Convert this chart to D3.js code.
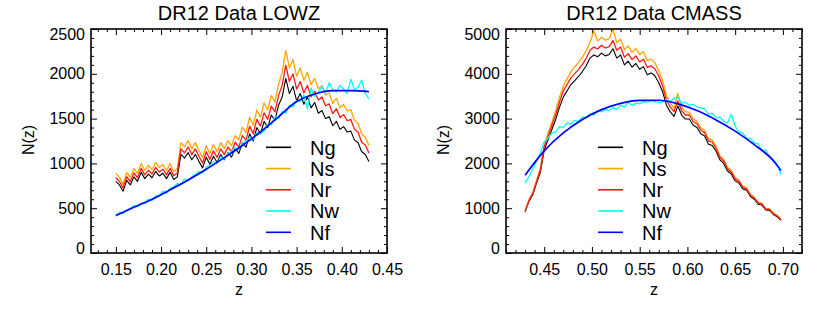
<!DOCTYPE html>
<html><head><meta charset="utf-8">
<script src="https://cdn.jsdelivr.net/npm/d3@7"></script>
<style>
html,body{margin:0;padding:0;background:#fff;}
svg{display:block;font-family:"Liberation Sans",Arial,Helvetica,sans-serif;}
</style></head><body>
<svg id="chart" width="830" height="312"></svg>
<script>
// ---------------- DATA ----------------
const seriesNames = ["Ng","Ns","Nr","Nw","Nf"];

// LOWZ panel
const lowzZ = [0.150,0.154,0.158,0.162,0.166,0.170,0.174,0.178,0.182,0.186,
0.190,0.194,0.198,0.202,0.206,0.210,0.214,0.218,0.222,0.226,
0.230,0.234,0.238,0.242,0.246,0.250,0.254,0.258,0.262,0.266,
0.270,0.274,0.278,0.282,0.286,0.290,0.294,0.298,0.302,0.306,
0.310,0.314,0.318,0.322,0.326,0.330,0.334,0.338,0.342,0.346,
0.350,0.354,0.358,0.362,0.366,0.370,0.374,0.378,0.382,0.386,
0.390,0.394,0.398,0.402,0.406,0.410,0.414,0.418,0.422,0.426,0.430];
const lowzNg = [800,760,690,810,760,850,800,900,830,880,
840,910,860,890,830,900,820,850,1100,1060,
1120,1040,1100,1020,950,1070,990,1080,1010,1100,
1040,1120,1070,1170,1110,1230,1180,1330,1250,1400,
1330,1470,1400,1540,1480,1650,1740,1950,1780,1860,
1700,1780,1660,1740,1620,1680,1560,1590,1500,1520,
1420,1470,1380,1410,1350,1360,1260,1230,1130,1100,1020];
const lowzNs = [888,844,766,899,844,944,888,999,921,977,
932,1010,955,988,921,999,910,944,1232,1187,
1254,1165,1232,1142,1064,1198,1109,1210,1131,1232,
1165,1254,1198,1310,1265,1402,1345,1516,1425,1596,
1516,1676,1596,1756,1687,1881,2018,2262,2065,2158,
1972,2065,1926,2018,1879,1949,1833,1868,1763,1786,
1669,1727,1622,1657,1586,1598,1481,1445,1328,1293,1199];
const lowzNr = [840,798,725,851,798,893,840,945,872,924,
882,956,903,935,872,945,861,893,1162,1119,
1183,1098,1162,1077,1003,1130,1045,1140,1067,1162,
1098,1183,1130,1236,1182,1310,1257,1416,1331,1491,
1416,1566,1491,1640,1576,1757,1871,2096,1914,2000,
1828,1914,1785,1871,1742,1806,1708,1741,1643,1664,
1555,1610,1511,1544,1478,1489,1380,1347,1237,1205,1117];
const lowzNw = [410,455,440,478,500,530,515,560,552,600,
585,640,632,690,668,720,740,775,760,825,
808,850,880,912,895,960,975,1015,998,1070,
1050,1110,1135,1180,1150,1230,1250,1290,1270,1345,
1335,1360,1440,1430,1520,1500,1580,1560,1650,1630,
1700,1690,1760,1610,1840,1750,1790,1860,1780,1900,
1820,1800,1870,1830,1780,1940,1820,1850,1930,1780,1720];
const lowzFitZ = [0.15,0.17,0.19,0.21,0.23,0.25,0.27,0.29,0.31,0.33,0.35,0.37,0.39,0.41,0.43];
const lowzNf = [418,510,600,705,815,935,1065,1200,1350,1520,1690,1775,1812,1812,1800];

// CMASS panel
const cmassZ = [0.430,0.434,0.438,0.442,0.446,0.450,0.454,0.458,0.462,0.466,
0.470,0.474,0.478,0.482,0.486,0.490,0.494,0.498,0.502,0.506,
0.510,0.514,0.518,0.522,0.526,0.530,0.534,0.538,0.542,0.546,
0.550,0.554,0.558,0.562,0.566,0.570,0.574,0.578,0.582,0.586,
0.590,0.594,0.598,0.602,0.606,0.610,0.614,0.618,0.622,0.626,
0.630,0.634,0.638,0.642,0.646,0.650,0.654,0.658,0.662,0.666,
0.670,0.674,0.678,0.682,0.686,0.690,0.694,0.698];
const cmassNg = [920,1150,1300,1560,1800,2300,2520,2750,2980,3250,
3480,3620,3760,3850,3940,4050,4180,4350,4420,4380,
4460,4400,4430,4560,4350,4420,4200,4280,4150,4230,
4100,4160,3980,4020,3950,3800,3600,3300,3150,3050,
3280,3080,2990,2990,2850,2800,2660,2610,2430,2400,
2270,2080,2000,1830,1760,1610,1560,1430,1400,1260,
1200,1090,1070,960,950,860,810,730];
const cmassNs = [938,1185,1352,1622,1890,2415,2671,2915,3174,3478,
3724,3892,4042,4158,4255,4374,4514,4698,4960,4730,
4817,4752,4784,4990,4698,4774,4536,4622,4482,4568,
4428,4493,4298,4322,4246,4066,3852,3515,3339,3233,
3560,3249,3154,3140,2993,2940,2793,2741,2552,2520,
2384,2174,2090,1912,1839,1682,1630,1487,1456,1310,
1248,1134,1113,998,988,894,842,759];
const cmassNr = [929,1173,1326,1591,1854,2369,2596,2846,3084,3364,
3619,3765,3910,4004,4098,4212,4347,4524,4597,4555,
4638,4576,4607,4742,4524,4597,4368,4451,4316,4399,
4264,4326,4139,4181,4108,3952,3726,3416,3260,3157,
3395,3172,3080,3080,2936,2884,2740,2688,2503,2472,
2327,2132,2050,1876,1804,1650,1599,1466,1428,1285,
1224,1112,1091,979,969,877,826,745];
const cmassNw = [1560,1700,1880,2050,2230,2480,2560,2680,2700,2820,
2800,2900,2880,2960,2940,3040,3020,3110,3080,3180,
3150,3200,3180,3250,3200,3300,3260,3360,3290,3350,
3330,3380,3360,3400,3380,3360,3370,3420,3380,3450,
3480,3340,3360,3300,3320,3260,3240,3220,3100,3120,
3020,3030,2940,2900,3100,2830,2700,2680,2560,2560,
2460,2440,2280,2300,2140,2080,1980,1750];
const cmassFitZ = [0.43,0.45,0.47,0.49,0.51,0.53,0.55,0.57,0.59,0.61,0.63,0.65,0.67,0.69,0.698];
const cmassNf = [1738,2280,2680,2980,3200,3340,3405,3410,3330,3180,2970,2720,2420,2060,1840];

// tick labels
const lowzXTicks = [0.15,0.20,0.25,0.30,0.35,0.40,0.45];
const lowzYTicks = [0,500,1000,1500,2000,2500];
const cmassXTicks = [0.45,0.50,0.55,0.60,0.65,0.70];
const cmassYTicks = [0,1000,2000,3000,4000,5000];

// ---------------- DRAW ----------------
const colors = {Ng:"#000000", Ns:"#ffa500", Nr:"#ff1a1a", Nw:"#00ffff", Nf:"#0000ff"};
const widths = {Ng:1.1, Ns:1.3, Nr:1.3, Nw:1.3, Nf:1.7};
const svg = d3.select("#chart");
svg.append("rect").attr("width",830).attr("height",312).attr("fill","#fff");
const TOP = 29, BOTTOM = 253;

function panel(cfg){
  const g = svg.append("g");
  const x = d3.scaleLinear().domain(cfg.xDomain).range([cfg.left, cfg.right]);
  const y = d3.scaleLinear().domain(cfg.yDomain).range([BOTTOM, TOP]);
  const isMajor = (v, step) => Math.abs(v/step - Math.round(v/step)) < 1e-6;
  const xMinor = d3.range(Math.ceil(cfg.xDomain[0]*100)/100, cfg.xDomain[1]+1e-9, 0.01).filter(v => !isMajor(v,0.05));
  const yMinor = d3.range(cfg.yDomain[0], cfg.yDomain[1]+1e-9, cfg.yMinorStep).filter(v => !isMajor(v, cfg.yTicks[1]));

  const styleAxis = sel => { sel.select(".domain").remove(); sel.attr("font-size",16).attr("font-family",'"Liberation Sans",Arial,Helvetica,sans-serif').attr("color","#000"); sel.selectAll("line").attr("stroke-width",1); };

  // minor ticks
  g.append("g").attr("transform",`translate(0,${BOTTOM})`).call(d3.axisBottom(x).tickValues(xMinor).tickSize(-3).tickFormat("")).call(styleAxis);
  g.append("g").attr("transform",`translate(0,${TOP})`).call(d3.axisTop(x).tickValues(xMinor).tickSize(-3).tickFormat("")).call(styleAxis);
  g.append("g").attr("transform",`translate(${cfg.left},0)`).call(d3.axisLeft(y).tickValues(yMinor).tickSize(-3).tickFormat("")).call(styleAxis);
  g.append("g").attr("transform",`translate(${cfg.right},0)`).call(d3.axisRight(y).tickValues(yMinor).tickSize(-3).tickFormat("")).call(styleAxis);
  // major ticks
  g.append("g").attr("transform",`translate(0,${BOTTOM})`).call(d3.axisBottom(x).tickValues(cfg.xTicks).tickSize(-6).tickPadding(11).tickFormat(d3.format(".2f"))).call(styleAxis);
  g.append("g").attr("transform",`translate(0,${TOP})`).call(d3.axisTop(x).tickValues(cfg.xTicks).tickSize(-6).tickFormat("")).call(styleAxis);
  const yl = g.append("g").attr("transform",`translate(${cfg.left},0)`).call(d3.axisLeft(y).tickValues(cfg.yTicks).tickSize(-6).tickPadding(6).tickFormat(d3.format("d"))).call(styleAxis);
  yl.selectAll("text").attr("dy", d => d===cfg.yDomain[0] ? "0.0em" : (d===cfg.yDomain[1] ? "0.63em" : "0.32em"));
  g.append("g").attr("transform",`translate(${cfg.right},0)`).call(d3.axisRight(y).tickValues(cfg.yTicks).tickSize(-6).tickFormat("")).call(styleAxis);

  // data lines
  const lineG = g.append("g");
  cfg.series.forEach(s => {
    const pts = s.z.map((z,i) => [z, s.v[i]]);
    const line = d3.line().x(d => x(d[0])).y(d => y(d[1])).curve(s.name==="Nf" ? d3.curveMonotoneX : d3.curveLinear);
    lineG.append("path").datum(pts).attr("d", line).attr("fill","none")
      .attr("stroke", colors[s.name]).attr("stroke-width", widths[s.name]).attr("stroke-linejoin","round");
  });

  // frame
  g.append("rect").attr("x",cfg.left).attr("y",TOP).attr("width",cfg.right-cfg.left).attr("height",BOTTOM-TOP)
    .attr("fill","none").attr("stroke","#000").attr("stroke-width",1.6);

  // titles
  const cx = (cfg.left+cfg.right)/2;
  g.append("text").attr("x",cx).attr("y",20).attr("text-anchor","middle").attr("font-size",20).text(cfg.title);
  g.append("text").attr("x",cx).attr("y",295).attr("text-anchor","middle").attr("font-size",16).text("z");
  g.append("text").attr("transform",`translate(${cfg.left-63},140) rotate(-90)`).attr("text-anchor","middle").attr("dy","0.35em").attr("font-size",16).text("N(z)");

  // legend
  const lg = g.append("g");
  seriesNames.forEach((n,i) => {
    const ly = 147.3 + i*21.25;
    lg.append("line").attr("x1",cfg.left+cfg.legLine[0]).attr("x2",cfg.left+cfg.legLine[1]).attr("y1",ly).attr("y2",ly)
      .attr("stroke",colors[n]).attr("stroke-width",1.6);
    lg.append("text").attr("x",cfg.left+cfg.legText).attr("y",ly+7.2).attr("font-size",20).attr("fill","#000").text(n);
  });
}

panel({
  title:"DR12 Data LOWZ", left:91, right:387,
  xDomain:[0.1225,0.45], yDomain:[0,2500], yMinorStep:100,
  xTicks:lowzXTicks, yTicks:lowzYTicks,
  legLine:[175,200], legText:219,
  series:[
    {name:"Ng", z:lowzZ, v:lowzNg},
    {name:"Ns", z:lowzZ, v:lowzNs},
    {name:"Nr", z:lowzZ, v:lowzNr},
    {name:"Nw", z:lowzZ, v:lowzNw},
    {name:"Nf", z:lowzFitZ, v:lowzNf}
  ]
});
panel({
  title:"DR12 Data CMASS", left:506, right:802,
  xDomain:[0.41,0.72], yDomain:[0,5000], yMinorStep:200,
  xTicks:cmassXTicks, yTicks:cmassYTicks,
  legLine:[92,117], legText:136,
  series:[
    {name:"Ng", z:cmassZ, v:cmassNg},
    {name:"Ns", z:cmassZ, v:cmassNs},
    {name:"Nr", z:cmassZ, v:cmassNr},
    {name:"Nw", z:cmassZ, v:cmassNw},
    {name:"Nf", z:cmassFitZ, v:cmassNf}
  ]
});
</script>
</body></html>
